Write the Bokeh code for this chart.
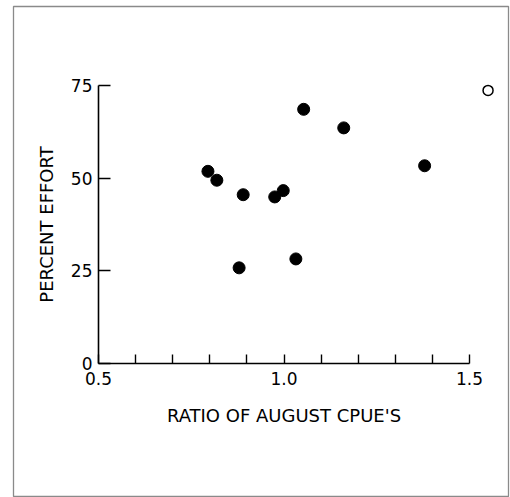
from bokeh.plotting import figure
from bokeh.models import FixedTicker, Range1d
from bokeh.embed import file_html
from bokeh.resources import INLINE

# data
ratio = [0.795, 0.819, 0.890, 0.879, 0.975, 0.998, 1.032, 1.053, 1.161, 1.379]
effort = [51.8, 49.4, 45.5, 25.8, 44.9, 46.6, 28.2, 68.5, 63.5, 53.3]
open_ratio = [1.550]
open_effort = [73.6]

x_ticks = [0.5, 1.0, 1.5]
x_tick_labels = ["0.5", "1.0", "1.5"]
x_minor = [0.6, 0.7, 0.8, 0.9, 1.1, 1.2, 1.3, 1.4]
y_ticks = [0, 25, 50, 75]

FONT = "DejaVu Sans"

# frame = outer border box; axes sit inside it at fixed locations
p = figure(width=510, height=497, output_backend="svg", toolbar_location=None,
           x_range=Range1d(0.2709, 1.6051), y_range=Range1d(-35.8, 96.2),
           min_border_left=13, min_border_right=2,
           min_border_top=6, min_border_bottom=1)
p.outline_line_color = "#8a8a8a"
p.outline_line_width = 1.3
p.grid.visible = False
p.background_fill_color = "white"
p.border_fill_color = "white"

p.scatter(ratio, effort, size=12, color="black")
p.scatter(open_ratio, open_effort, size=10, fill_color="white",
          line_color="black", line_width=1.5)

xa = p.xaxis[0]
xa.fixed_location = 0
xa.ticker = FixedTicker(ticks=x_ticks, minor_ticks=x_minor)
xa.major_label_overrides = dict(zip(x_ticks, x_tick_labels))
xa.bounds = (0.5, 1.5)
xa.major_tick_in = 9
xa.major_tick_out = 0
xa.minor_tick_in = 9
xa.minor_tick_out = 0
xa.axis_line_width = 1.6
xa.major_tick_line_width = 1.4
xa.minor_tick_line_width = 1.4
xa.major_label_standoff = 8
xa.major_label_text_font = FONT
xa.major_label_text_font_size = "17px"
xa.major_label_text_color = "black"
xa.axis_label = "RATIO OF AUGUST CPUE'S"
xa.axis_label_text_font = FONT
xa.axis_label_text_font_style = "normal"
xa.axis_label_text_font_size = "18px"
xa.axis_label_text_color = "black"
xa.axis_label_standoff = 17

ya = p.yaxis[0]
ya.fixed_location = 0.5
ya.ticker = FixedTicker(ticks=y_ticks)
ya.bounds = (0, 75)
ya.major_tick_in = 12
ya.major_tick_out = 0
ya.minor_tick_line_color = None
ya.axis_line_width = 1.6
ya.major_tick_line_width = 1.4
ya.major_label_standoff = 6
ya.major_label_text_font = FONT
ya.major_label_text_font_size = "17px"
ya.major_label_text_color = "black"
ya.axis_label = "PERCENT EFFORT"
ya.axis_label_text_font = FONT
ya.axis_label_text_font_style = "normal"
ya.axis_label_text_font_size = "18px"
ya.axis_label_text_color = "black"
ya.axis_label_standoff = 11

open("out.html", "w").write(file_html(p, INLINE))
